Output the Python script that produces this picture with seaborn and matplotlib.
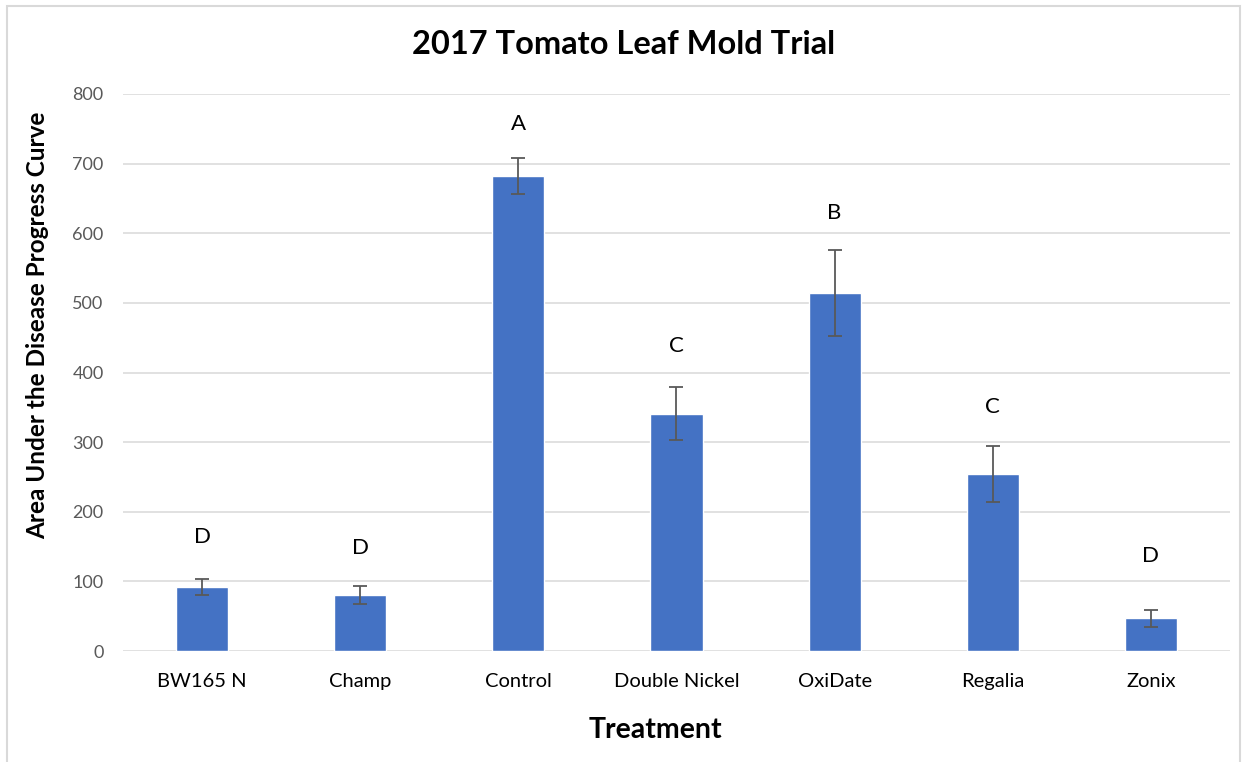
import seaborn as sns
import pandas as pd
from matplotlib import pyplot as plt
from matplotlib.patches import Rectangle

treatments = ['BW165 N', 'Champ', 'Control', 'Double Nickel', 'OxiDate', 'Regalia', 'Zonix']
audpc = [92, 80, 682, 341, 514, 254, 47]
std_err = [12, 13, 26, 38, 62, 40, 12]
letters = ['D', 'D', 'A', 'C', 'B', 'C', 'D']
letter_y = [164, 148, 757, 438, 629, 350, 136]

df = pd.DataFrame({'Treatment': treatments, 'AUDPC': audpc})

sns.set_style('white')
plt.rcParams['font.family'] = ['Lato', 'DejaVu Sans']
plt.rcParams['text.color'] = 'black'

fig = plt.figure(figsize=(12.47, 7.62), dpi=100)
ax = fig.add_axes([123 / 1247, 1 - 651 / 762, (1230 - 123) / 1247, (651 - 94) / 762])

sns.barplot(data=df, x='Treatment', y='AUDPC', color='#4472C4', saturation=1,
            width=0.33, errorbar=None, ax=ax, zorder=3)
ax.errorbar(range(len(treatments)), audpc, yerr=std_err, fmt='none',
            ecolor='#595959', elinewidth=1.3, capsize=5, capthick=1.3, zorder=4)

for i, (lab, y) in enumerate(zip(letters, letter_y)):
    ax.text(i, y, lab, ha='center', va='center', fontsize=16, color='black')

ax.set_ylim(0, 800)
ax.set_xlim(-0.5, len(treatments) - 0.5)
ax.set_yticks(range(0, 801, 100))
ax.yaxis.grid(True, color='#D9D9D9', linewidth=1.1, zorder=0)
ax.set_axisbelow(True)
for s in ax.spines.values():
    s.set_visible(False)
ax.tick_params(axis='y', colors='#595959', labelsize=13, length=0, pad=14)
ax.tick_params(axis='x', labelcolor='black', labelsize=14.5, length=0, pad=16)

ax.set_xlabel('Treatment', fontsize=20.5, fontweight='bold', color='black')
ax.set_ylabel('Area Under the Disease Progress Curve', fontsize=17.5, fontweight='bold', color='black')
ax.xaxis.set_label_coords(0.481, -0.118)
ax.yaxis.set_label_coords(-0.067, 0.585)
fig.suptitle('2017 Tomato Leaf Mold Trial', fontsize=23.5, fontweight='bold', y=1 - 45 / 762, va='center', color='black')

fig.patches.append(Rectangle((7 / 1247, -0.01), 1233 / 1247, 1 - 6 / 762 + 0.01, transform=fig.transFigure,
                             fill=False, edgecolor='#D9D9D9', linewidth=1.5))

plt.savefig('out.png', dpi=100)
